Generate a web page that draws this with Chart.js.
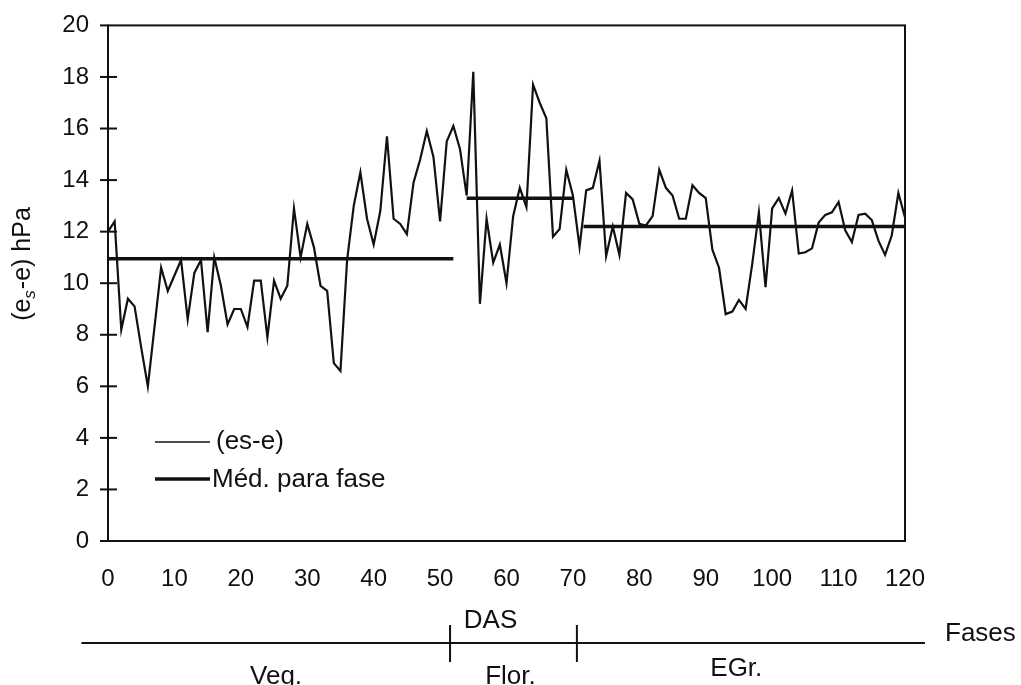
<!DOCTYPE html>
<html>
<head>
<meta charset="utf-8">
<script src="https://cdn.jsdelivr.net/npm/chart.js@4.4.1/dist/chart.umd.min.js"></script>
<style>
  html, body { margin: 0; padding: 0; background: #fff; }
  #wrap { width: 1021px; height: 685px; }
</style>
</head>
<body>
<div id="wrap"><canvas id="myChart" width="1021" height="685"></canvas></div>
<script>
// daily (es-e) values, day 0 .. 120
var esE = [
  12.0, 12.4, 8.2, 9.4, 9.1, 7.5, 6.0, 8.3, 10.6, 9.7,
  10.3, 10.9, 8.6, 10.4, 10.9, 8.1, 11.0, 9.9, 8.4, 9.0,
  9.0, 8.3, 10.1, 10.1, 7.9, 10.1, 9.4, 9.9, 12.9, 11.0,
  12.3, 11.4, 9.9, 9.7, 6.9, 6.6, 10.9, 13.0, 14.3, 12.5,
  11.5, 12.8, 15.7, 12.5, 12.3, 11.9, 13.9, 14.8, 15.9, 14.9,
  12.4, 15.5, 16.1, 15.2, 13.4, 18.2, 9.2, 12.5, 10.8, 11.5,
  10.0, 12.6, 13.7, 12.95, 17.7, 17.0, 16.4, 11.8, 12.1, 14.4,
  13.4, 11.4, 13.6, 13.7, 14.75, 11.05, 12.2, 11.1, 13.5, 13.25,
  12.3, 12.24, 12.6, 14.4, 13.7, 13.4, 12.5, 12.5, 13.8, 13.5,
  13.3, 11.3, 10.6, 8.8, 8.9, 9.35, 9.0, 10.75, 12.75, 9.85,
  12.9, 13.3, 12.7, 13.6, 11.15, 11.2, 11.35, 12.35, 12.65, 12.75,
  13.15, 12.05, 11.6, 12.65, 12.7, 12.45, 11.65, 11.1, 11.85, 13.5,
  12.55
];

// phase means
var meanStart = [0, 54, 71.6];
var meanEnd = [52, 70, 120];
var meanValue = [10.95, 13.3, 12.2];

// phases under the axis
var phaseBounds = [51.5, 70.6];
var phaseNames = ['Veg.', 'Flor.', 'EGr.'];
var phaseLabelAt = [25.3, 60.6, 94.6];

var yTicks = [0, 2, 4, 6, 8, 10, 12, 14, 16, 18, 20];
var xTicks = [0, 10, 20, 30, 40, 50, 60, 70, 80, 90, 100, 110, 120];

var FONT = '"Liberation Sans", Arial, Helvetica, sans-serif';
var INK = '#111';

var seriesPts = esE.map(function (v, i) { return { x: i, y: v }; });

var datasets = [{
    label: '(es-e)',
    data: seriesPts,
    borderColor: INK,
    borderWidth: 2.2,
    pointRadius: 0,
    tension: 0
}];
for (var i = 0; i < meanValue.length; i++) {
    datasets.push({
        label: 'Méd. para fase',
        data: [{ x: meanStart[i], y: meanValue[i] }, { x: meanEnd[i], y: meanValue[i] }],
        borderColor: INK,
        borderWidth: 3.5,
        pointRadius: 0
    });
}

var decor = {
    id: 'decor',
    afterDraw: function (chart) {
        var ctx = chart.ctx, a = chart.chartArea;
        var xs = chart.scales.x, ys = chart.scales.y;
        ctx.save();
        ctx.strokeStyle = INK;
        ctx.fillStyle = INK;

        // frame
        ctx.lineWidth = 2;
        ctx.strokeRect(a.left, a.top, a.right - a.left, a.bottom - a.top);

        // y tick marks crossing the axis
        yTicks.forEach(function (v) {
            var py = ys.getPixelForValue(v);
            ctx.beginPath();
            ctx.moveTo(a.left - 8, py);
            ctx.lineTo(v === 0 || v === 20 ? a.left : a.left + 9, py);
            ctx.stroke();
        });

        // y title with subscript
        ctx.save();
        ctx.translate(23, 264);
        ctx.rotate(-Math.PI / 2);
        ctx.textBaseline = 'middle';
        ctx.textAlign = 'left';
        var big = '25px ' + FONT, small = 'italic 17px ' + FONT;
        ctx.font = big;
        var p1 = '(e', p3 = '-e) hPa';
        var w1 = ctx.measureText(p1).width, w3 = ctx.measureText(p3).width;
        ctx.font = small;
        var w2 = ctx.measureText('s').width + 1;
        var x0 = -(w1 + w2 + w3) / 2;
        ctx.font = big;
        ctx.fillText(p1, x0, 0);
        ctx.font = small;
        ctx.fillText('s', x0 + w1, 7);
        ctx.font = big;
        ctx.fillText(p3, x0 + w1 + w2, 0);
        ctx.restore();

        // legend inside the plot
        var lx = a.left + 47, ly1 = a.bottom - 99, ly2 = a.bottom - 62;
        ctx.lineWidth = 1.5;
        ctx.beginPath(); ctx.moveTo(lx, ly1); ctx.lineTo(lx + 55, ly1); ctx.stroke();
        ctx.lineWidth = 3.5;
        ctx.beginPath(); ctx.moveTo(lx, ly2); ctx.lineTo(lx + 55, ly2); ctx.stroke();
        ctx.font = '26px ' + FONT;
        ctx.textBaseline = 'middle';
        ctx.textAlign = 'left';
        ctx.fillText('(es-e)', lx + 61, ly1);
        ctx.fillText('Méd. para fase', lx + 57, ly2 + 1);

        // axis title and phase line below
        ctx.textAlign = 'center';
        ctx.fillText('DAS', xs.getPixelForValue(57.6), 621);
        var py = 643;
        ctx.lineWidth = 2;
        ctx.beginPath();
        ctx.moveTo(xs.getPixelForValue(-4), py);
        ctx.lineTo(xs.getPixelForValue(123), py);
        ctx.stroke();
        phaseBounds.forEach(function (d) {
            var px = xs.getPixelForValue(d);
            ctx.beginPath(); ctx.moveTo(px, 625); ctx.lineTo(px, 662); ctx.stroke();
        });
        ctx.textAlign = 'left';
        ctx.fillText('Fases', 945, 634);
        ctx.textAlign = 'center';
        var phaseY = [677, 677, 669];
        phaseNames.forEach(function (n, k) {
            ctx.fillText(n, xs.getPixelForValue(phaseLabelAt[k]), phaseY[k]);
        });
        ctx.restore();
    }
};

var ctx = document.getElementById('myChart');
var myChart = new Chart(ctx, {
    type: 'line',
    data: { datasets: datasets },
    options: {
        responsive: false,
        animation: false,
        layout: { padding: { left: 0, right: 116, top: 20, bottom: 0 } },
        plugins: {
            legend: { display: false },
            tooltip: { enabled: false }
        },
        scales: {
            x: {
                type: 'linear',
                min: 0,
                max: 120,
                grid: { display: false },
                border: { display: false },
                afterBuildTicks: function (scale) {
                    scale.ticks = xTicks.map(function (v) { return { value: v }; });
                },
                afterFit: function (scale) { scale.height = 144; },
                ticks: {
                    color: INK,
                    padding: 16,
                    maxRotation: 0,
                    autoSkip: false,
                    font: { size: 24, family: FONT }
                }
            },
            y: {
                min: 0,
                max: 20,
                grid: { display: false },
                border: { display: false },
                afterBuildTicks: function (scale) {
                    scale.ticks = yTicks.map(function (v) { return { value: v }; });
                },
                afterFit: function (scale) { scale.width = 108; },
                ticks: {
                    color: INK,
                    padding: 11,
                    font: { size: 24, family: FONT }
                }
            }
        }
    },
    plugins: [decor]
});
</script>
</body>
</html>
